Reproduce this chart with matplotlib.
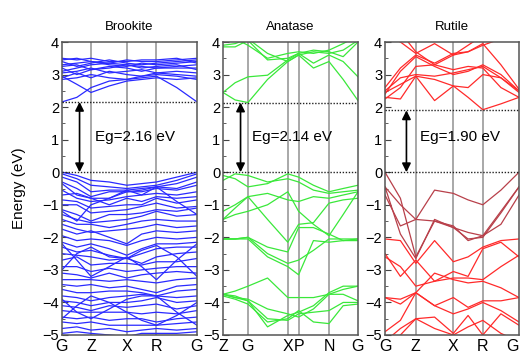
import matplotlib
matplotlib.use("Agg")
import matplotlib.pyplot as plt
from matplotlib.ticker import MultipleLocator

plt.rcParams['font.family'] = ['Liberation Sans', 'DejaVu Sans']

# ---------------- data ----------------
titles = ["Brookite", "Anatase", "Rutile"]
gaps = [2.16, 2.14, 1.90]
gap_labels = ["Eg=2.16 eV", "Eg=2.14 eV", "Eg=1.90 eV"]

brookite_ticks = ["G", "Z", "X", "R", "G"]
brookite_tickpos = [0.0, 0.215, 0.48, 0.70, 1.0]
brookite_k = [0.0, 0.11, 0.215, 0.35, 0.48, 0.59, 0.70, 0.85, 1.0]
brookite_bands = [
    [2.16, 2.3, 2.6, 2.8, 2.85, 2.9, 2.95, 2.6, 2.16],
    [2.95, 2.7, 2.45, 2.65, 2.8, 2.85, 2.9, 2.85, 2.9],
    [2.85, 2.9, 3.0, 2.9, 2.85, 2.95, 3.0, 2.95, 2.85],
    [2.9, 3.05, 2.9, 3.1, 3.0, 2.95, 3.05, 3.0, 2.95],
    [3.05, 3.1, 3.2, 3.05, 3.1, 3.15, 3.05, 3.1, 3.05],
    [3.2, 3.0, 3.15, 3.25, 3.2, 3.1, 3.2, 3.2, 3.2],
    [3.25, 3.3, 3.15, 3.2, 3.3, 3.25, 3.2, 3.25, 3.3],
    [3.3, 3.35, 3.4, 3.3, 3.25, 3.35, 3.3, 3.35, 3.4],
    [3.4, 3.25, 3.35, 3.45, 3.35, 3.3, 3.35, 3.4, 3.45],
    [3.45, 3.5, 3.4, 3.35, 3.45, 3.4, 3.4, 3.45, 3.5],
    [3.5, 3.45, 3.5, 3.4, 3.4, 3.45, 3.45, 3.5, 3.35],
    [3.1, 3.2, 3.3, 3.35, 3.3, 3.2, 3.25, 3.3, 3.15],
    [0.0, -0.1, -0.25, -0.3, -0.4, -0.35, -0.3, -0.15, 0.0],
    [-0.05, -0.2, -0.4, -0.45, -0.5, -0.45, -0.4, -0.25, -0.05],
    [-0.15, -0.3, -0.6, -0.55, -0.55, -0.5, -0.45, -0.35, -0.15],
    [-0.3, -0.5, -0.75, -0.6, -0.6, -0.55, -0.45, -0.5, -0.3],
    [-0.35, -0.7, -0.8, -0.8, -0.6, -0.6, -0.5, -0.55, -0.4],
    [-0.55, -0.8, -0.9, -0.85, -0.75, -0.7, -0.65, -0.7, -0.6],
    [-0.7, -0.65, -0.8, -1.0, -0.8, -0.9, -0.75, -0.8, -0.75],
    [-0.85, -0.9, -1.1, -1.05, -1.0, -1.0, -0.8, -0.95, -0.85],
    [-1.0, -1.0, -1.25, -1.2, -1.15, -1.05, -0.95, -1.1, -1.05],
    [-1.15, -1.3, -1.5, -1.3, -1.3, -1.25, -1.15, -1.2, -1.1],
    [-1.3, -1.45, -1.55, -1.5, -1.45, -1.35, -1.2, -1.35, -1.3],
    [-1.45, -1.6, -1.6, -1.7, -1.6, -1.5, -1.45, -1.5, -1.5],
    [-1.6, -1.75, -1.85, -1.8, -1.75, -1.7, -1.6, -1.7, -1.65],
    [-1.75, -1.9, -1.8, -2.0, -2.2, -1.9, -1.8, -1.85, -1.8],
    [-1.95, -2.1, -2.05, -2.1, -2.25, -2.1, -2.0, -2.05, -2.0],
    [-2.15, -2.3, -2.2, -2.35, -2.55, -2.35, -2.2, -2.2, -2.15],
    [-2.3, -2.45, -2.4, -2.55, -2.65, -2.5, -2.35, -2.3, -2.3],
    [-2.5, -2.55, -2.6, -2.7, -2.65, -2.8, -2.6, -2.5, -2.45],
    [-2.7, -2.6, -2.85, -2.8, -2.8, -2.85, -2.75, -2.75, -2.65],
    [-2.9, -2.9, -3.05, -2.95, -3.05, -3.0, -2.95, -2.9, -2.9],
    [-3.1, -3.15, -3.25, -3.1, -3.25, -3.15, -3.1, -3.05, -3.1],
    [-3.3, -3.3, -3.3, -3.35, -3.3, -3.35, -3.4, -3.3, -3.25],
    [-3.45, -3.5, -3.45, -3.55, -3.5, -3.6, -3.7, -3.5, -3.45],
    [-3.6, -3.7, -3.7, -3.65, -3.65, -3.7, -3.8, -3.65, -3.6],
    [-3.8, -3.85, -3.95, -3.85, -3.8, -3.75, -3.8, -3.85, -3.8],
    [-3.95, -4.0, -4.1, -4.0, -4.0, -3.95, -3.85, -4.0, -3.95],
    [-4.1, -4.15, -4.25, -4.1, -4.15, -4.1, -4.05, -4.2, -4.1],
    [-4.25, -4.3, -4.3, -4.3, -4.3, -4.35, -4.3, -4.35, -4.25],
    [-4.45, -4.5, -4.45, -4.55, -4.5, -4.5, -4.6, -4.5, -4.45],
    [-4.6, -4.65, -4.6, -4.7, -4.7, -4.7, -4.7, -4.65, -4.6],
    [-4.8, -4.75, -4.85, -4.8, -4.9, -4.85, -4.8, -4.85, -4.8],
    [-4.95, -4.9, -4.95, -5.0, -5.05, -4.95, -4.95, -4.95, -4.9],
    [-2.2, -2.7, -3.2, -2.9, -2.6, -2.9, -3.3, -2.7, -2.2],
    [-3.0, -2.5, -2.3, -2.6, -2.65, -2.4, -2.25, -2.6, -3.2],
    [-1.2, -1.5, -1.0, -0.8, -0.55, -0.7, -0.45, -0.9, -1.3],
    [-3.9, -4.3, -4.5, -4.2, -3.9, -3.8, -3.8, -4.3, -4.7],
    [-4.5, -4.1, -3.8, -4.0, -4.3, -4.55, -4.7, -4.4, -4.0],
]

anatase_ticks = ["Z", "G", "X", "P", "N", "G"]
anatase_tickpos = [0.0, 0.185, 0.48, 0.56, 0.785, 1.0]
anatase_k = [0.0, 0.09, 0.185, 0.33, 0.48, 0.56, 0.67, 0.785, 0.89, 1.0]
anatase_bands = [
    [2.45, 2.22, 2.14, 2.85, 3.4, 3.6, 3.2, 3.4, 2.85, 2.2],
    [2.45, 2.75, 2.93, 2.98, 3.45, 3.65, 3.35, 3.6, 3.4, 2.93],
    [3.85, 3.85, 4.05, 3.45, 3.5, 3.65, 3.75, 3.7, 3.55, 4.0],
    [3.9, 3.95, 4.1, 3.65, 3.4, 3.6, 3.7, 3.65, 3.75, 4.05],
    [4.2, 4.1, 3.9, 3.5, 3.65, 3.7, 3.65, 3.75, 3.95, 4.2],
    [-0.1, -0.2, -0.45, -0.35, -0.05, -0.15, -0.4, -0.6, -0.5, -0.4],
    [-0.25, -0.05, -0.1, -0.3, -0.2, -0.3, -0.55, -0.65, -0.6, -0.55],
    [-1.2, -1.0, -0.75, -0.65, -0.85, -0.9, -0.75, -0.8, -0.7, -0.6],
    [-1.45, -1.1, -0.75, -1.45, -2.15, -1.6, -1.55, -0.95, -0.85, -0.8],
    [-1.45, -1.3, -1.2, -1.0, -0.6, -1.2, -1.6, -1.95, -1.3, -0.6],
    [-2.05, -2.05, -2.0, -2.3, -2.45, -1.7, -1.7, -1.9, -2.1, -2.05],
    [-2.05, -2.05, -2.05, -2.6, -2.9, -3.15, -2.1, -2.15, -2.1, -2.1],
    [-2.05, -2.05, -2.0, -2.5, -2.8, -2.7, -2.4, -2.05, -2.05, -2.05],
    [-3.75, -3.65, -3.5, -3.25, -3.85, -3.85, -3.85, -3.75, -3.6, -3.5],
    [-3.75, -3.85, -3.9, -4.2, -4.35, -4.45, -4.2, -3.75, -3.75, -3.95],
    [-3.75, -3.85, -3.95, -4.5, -4.55, -4.35, -4.3, -4.25, -4.0, -4.0],
    [-3.8, -3.9, -4.05, -4.6, -4.5, -4.25, -4.6, -4.65, -4.1, -4.05],
    [-3.75, -3.8, -3.95, -4.75, -4.4, -4.3, -4.1, -3.7, -3.5, -3.5],
]

rutile_ticks = ["G", "Z", "X", "R", "G"]
rutile_tickpos = [0.0, 0.23, 0.51, 0.73, 1.0]
rutile_k = [0.0, 0.115, 0.23, 0.37, 0.51, 0.62, 0.73, 0.865, 1.0]
rutile_bands = [
    [2.3, 2.25, 2.95, 2.2, 2.65, 2.3, 1.92, 2.1, 2.3],
    [2.45, 2.7, 2.95, 2.85, 2.65, 2.6, 3.0, 2.9, 2.45],
    [2.5, 2.9, 3.0, 2.95, 3.05, 3.15, 3.25, 2.9, 2.5],
    [2.4, 3.1, 3.55, 3.25, 3.0, 3.1, 3.3, 3.0, 2.5],
    [2.25, 2.6, 3.25, 3.3, 3.15, 3.25, 3.2, 2.6, 2.3],
    [2.6, 3.2, 3.6, 3.35, 3.65, 3.7, 3.95, 3.3, 2.55],
    [4.2, 4.0, 3.65, 3.95, 3.6, 3.7, 3.9, 4.1, 4.3],
    [4.5, 4.3, 3.7, 3.3, 3.6, 3.9, 4.2, 4.3, 4.5],
    [0.0, -0.8, -2.6, -1.5, -1.65, -2.1, -1.95, -1.2, -0.45],
    [-0.45, -1.0, -1.45, -0.55, -0.65, -0.85, -1.0, -0.55, 0.0],
    [-0.45, -1.9, -2.65, -1.45, -1.7, -2.05, -2.0, -1.25, -0.45],
    [-0.7, -1.65, -1.45, -1.5, -1.7, -1.85, -1.95, -1.6, -0.7],
    [-2.05, -2.1, -2.8, -2.1, -2.75, -2.6, -2.3, -2.1, -2.05],
    [-2.5, -3.2, -2.7, -3.35, -3.05, -3.2, -2.35, -2.15, -2.6],
    [-2.6, -2.9, -3.5, -3.35, -3.25, -3.25, -3.3, -2.9, -2.55],
    [-3.85, -4.05, -3.7, -3.1, -3.3, -3.4, -3.35, -3.55, -3.85],
    [-3.85, -3.9, -3.7, -4.1, -3.85, -4.15, -3.95, -3.95, -3.85],
    [-4.9, -4.55, -3.7, -4.1, -4.35, -4.2, -4.0, -4.25, -4.6],
    [-5.2, -4.8, -4.5, -4.45, -4.95, -4.4, -5.0, -4.35, -4.7],
    [-5.4, -5.0, -4.5, -4.8, -5.0, -4.75, -4.55, -4.95, -5.2],
]

panels = [
    (brookite_k, brookite_bands, brookite_ticks, brookite_tickpos, "#2a2aff", "#2a2aff"),
    (anatase_k, anatase_bands, anatase_ticks, anatase_tickpos, "#3ae83a", "#3ae83a"),
    (rutile_k, rutile_bands, rutile_ticks, rutile_tickpos, "#ff2a2a", "#b8404a"),
]

# ---------------- plotting ----------------
fig = plt.figure(figsize=(5.21, 3.58), dpi=100)
lefts = [62 / 521, 223 / 521, 385 / 521]
widths = [135 / 521, 135 / 521, 134 / 521]
bottom = 1 - 335 / 358
height = 293 / 358
arrow_x = [0.13, 0.13, 0.16]
text_x = [0.245, 0.215, 0.26]

for i, (k, bands, tl, tp, col, col_dark) in enumerate(panels):
    ax = fig.add_axes([lefts[i], bottom, widths[i], height])
    for p in tp[1:-1]:
        ax.axvline(p, color="#9a9a9a", lw=1.2, zorder=1)
    for b in bands:
        c = col_dark if (max(b) <= 0 and min(b) > -2.7) else col
        ax.plot(k, b, color=c, lw=0.9, zorder=2)
    ax.axhline(0, color="#222222", lw=1.0, ls=(0, (1, 1.2)), zorder=3)
    ax.axhline(gaps[i], color="#222222", lw=1.0, ls=(0, (1, 1.2)), zorder=3)
    ax.annotate("", xy=(arrow_x[i], gaps[i]), xytext=(arrow_x[i], 0),
                arrowprops=dict(arrowstyle="<|-|>", color="black", lw=1.2,
                                mutation_scale=13, shrinkA=0, shrinkB=0),
                zorder=4)
    ax.text(text_x[i], 1.07, gap_labels[i], fontsize=11, va="center", ha="left")
    ax.set_xlim(0, 1)
    ax.set_ylim(-5, 4)
    ax.set_xticks(tp)
    ax.set_xticklabels(tl, fontsize=11.5)
    ax.tick_params(axis="x", length=0, pad=3)
    if i == 2:
        ax.get_xticklabels()[-1].set_horizontalalignment("right")
    ax.yaxis.set_major_locator(MultipleLocator(1))
    ax.yaxis.set_minor_locator(MultipleLocator(0.5))
    ax.tick_params(axis="y", which="major", direction="in", length=4, labelsize=10.5, pad=2,
                   color="#444444")
    ax.tick_params(axis="y", which="minor", direction="in", length=2.5, color="#444444")
    for s in ax.spines.values():
        s.set_color("#555555")
        s.set_linewidth(1.1)
    ax.set_title(titles[i], fontsize=9.5, pad=9)
    if i == 0:
        ax.set_ylabel("Energy (eV)", fontsize=11, labelpad=12)

fig.savefig("out.png", dpi=100)
